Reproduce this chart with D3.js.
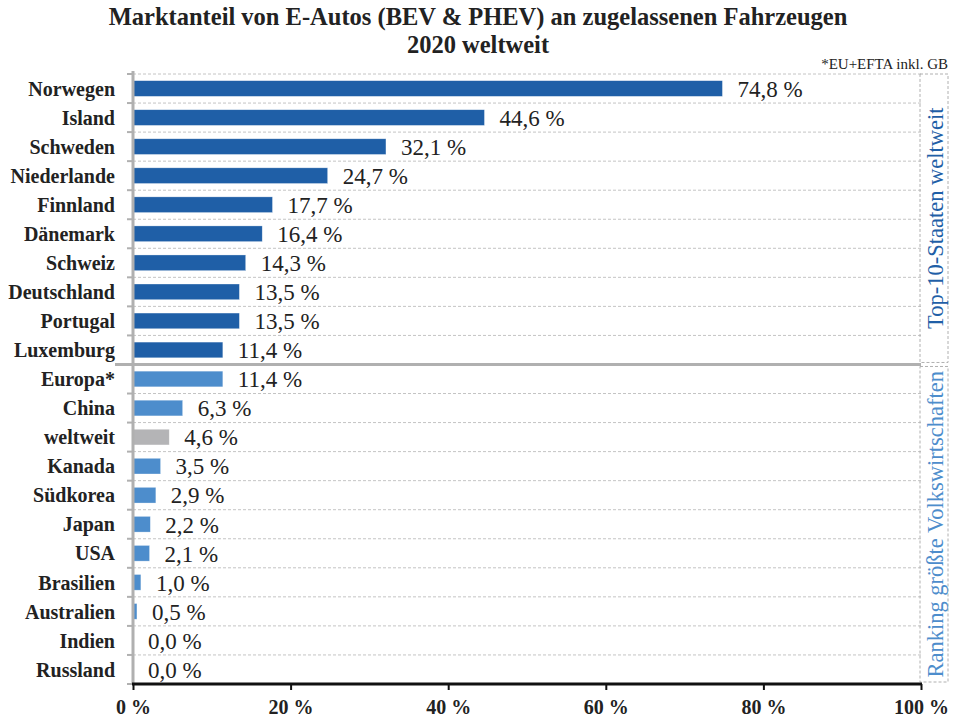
<!DOCTYPE html>
<html><head><meta charset="utf-8">
<script src="https://cdn.jsdelivr.net/npm/d3@7"></script>
<style>body{margin:0;background:#fff}</style>
</head><body><svg id="c" width="953" height="718"></svg>
<script>
const categories = ["Norwegen","Island","Schweden","Niederlande","Finnland","Dänemark","Schweiz","Deutschland","Portugal","Luxemburg","Europa*","China","weltweit","Kanada","Südkorea","Japan","USA","Brasilien","Australien","Indien","Russland"];
const values = [74.8,44.6,32.1,24.7,17.7,16.4,14.3,13.5,13.5,11.4,11.4,6.3,4.6,3.5,2.9,2.2,2.1,1.0,0.5,0.0,0.0];
const groups = ["top","top","top","top","top","top","top","top","top","top","eco","eco","world","eco","eco","eco","eco","eco","eco","eco","eco"];
const xTicks = [0,20,40,60,80,100];
const titleLines = ["Marktanteil von E-Autos (BEV & PHEV) an zugelassenen Fahrzeugen","2020 weltweit"];
const footnote = "*EU+EFTA inkl. GB";
const groupLabels = ["Top-10-Staaten weltweit","Ranking größte Volkswirtschaften"];

const colors = {top:"#1f5fa7", eco:"#4d8dcc", world:"#b4b4b6"};
const serif = "'Liberation Serif','Times New Roman',serif";
const svg = d3.select("#c");
const L = 133, R = 921, T = 74, B = 684;
const x = d3.scaleLinear().domain([0,100]).range([L,R]);
const y = d3.scaleBand().domain(categories).range([T,B]).paddingInner(0.46).paddingOuter(0.23);
const step = y.step();

// title
svg.append("g").selectAll("text").data(titleLines).join("text")
  .attr("x",478).attr("y",(d,i)=>25+i*28).attr("text-anchor","middle")
  .attr("font-family",serif).attr("font-weight","bold").attr("font-size",24.5).attr("fill","#222").text(d=>d);
svg.append("text").attr("x",948).attr("y",69).attr("text-anchor","end")
  .attr("font-family",serif).attr("font-size",15).attr("fill","#222").text(footnote);

// gridlines (dashed) at band boundaries
const bounds = d3.range(categories.length+1).map(i=>T+i*step);
svg.append("g").selectAll("line").data(bounds.slice(0,-1)).join("line")
  .attr("x1",L).attr("x2",R).attr("y1",d=>d).attr("y2",d=>d)
  .attr("stroke","#c4c4c4").attr("stroke-width",1).attr("stroke-dasharray","3,2");
// y ticks
svg.append("g").selectAll("line").data(bounds).join("line")
  .attr("x1",L-6).attr("x2",L).attr("y1",d=>d).attr("y2",d=>d)
  .attr("stroke","#b0b0b0").attr("stroke-width",2);

// right group boxes
const sepY = T+10*step;
const boxes = [{y0:T, y1:sepY-2, label:groupLabels[0], color:colors.top},{y0:sepY+2, y1:B-2, label:groupLabels[1], color:colors.eco}];
const bg = svg.append("g").selectAll("g").data(boxes).join("g");
bg.append("rect").attr("x",R-1).attr("y",d=>d.y0).attr("width",28).attr("height",d=>d.y1-d.y0)
  .attr("fill","none").attr("stroke","#b0b0b0").attr("stroke-dasharray","3,2");
bg.append("text").attr("transform",d=>`translate(${R+22},${(d.y0+d.y1)/2}) rotate(-90)`)
  .attr("text-anchor","middle").attr("font-family",serif).attr("font-size",22.5).attr("fill",d=>d.color).text(d=>d.label);

// bars
svg.append("g").selectAll("rect").data(categories).join("rect")
  .attr("x",x(0)).attr("y",d=>y(d)).attr("height",y.bandwidth())
  .attr("width",(d,i)=>x(values[i])-x(0)).attr("fill",(d,i)=>colors[groups[i]])
  .attr("stroke","#ffffff").attr("stroke-opacity",0.5).attr("stroke-width",(d,i)=>values[i]>0?0.6:0);

// value labels
svg.append("g").selectAll("text").data(categories).join("text")
  .attr("x",(d,i)=>x(values[i])+15).attr("y",d=>y(d)+y.bandwidth()/2).attr("dy","0.36em")
  .attr("font-family",serif).attr("font-size",23).attr("fill","#222")
  .text((d,i)=>d3.format(".1f")(values[i]).replace(".",",")+" %");

// category labels
svg.append("g").selectAll("text").data(categories).join("text")
  .attr("x",115).attr("y",d=>y(d)+y.bandwidth()/2).attr("dy","0.36em").attr("text-anchor","end")
  .attr("font-family",serif).attr("font-weight","bold").attr("font-size",20).attr("fill","#222").text(d=>d);

// separator
svg.append("line").attr("x1",115).attr("x2",R).attr("y1",sepY).attr("y2",sepY)
  .attr("stroke","#b0b0b0").attr("stroke-width",3);

// y axis line
svg.append("line").attr("x1",L).attr("x2",L).attr("y1",T-3).attr("y2",B)
  .attr("stroke","#b0b0b0").attr("stroke-width",3);

// x axis
const xa = svg.append("g").attr("transform",`translate(0,${B})`)
  .call(d3.axisBottom(x).tickValues(xTicks).tickSize(6).tickFormat(d=>d+" %"));
xa.select(".domain").attr("stroke","#111").attr("stroke-width",3).attr("d",`M${L-1},0H${R+1}`);
xa.selectAll(".tick line").attr("stroke","#111").attr("stroke-width",2);
xa.selectAll(".tick text").attr("font-family",serif).attr("font-weight","bold").attr("font-size",20)
  .attr("fill","#222").attr("dy","1.05em");
</script></body></html>
